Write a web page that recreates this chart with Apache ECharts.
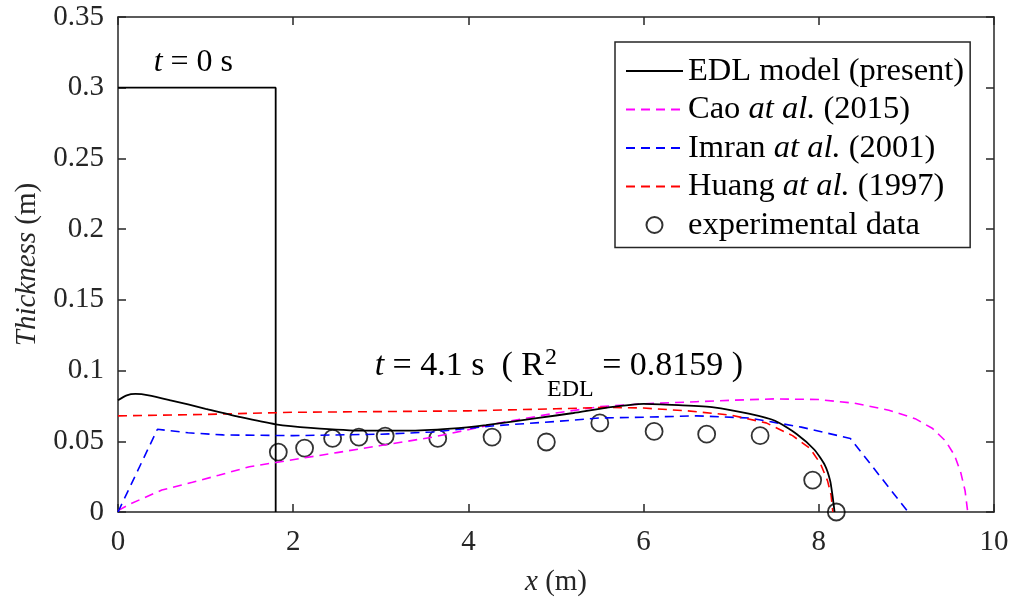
<!DOCTYPE html>
<html><head><meta charset="utf-8">
<script src="https://cdn.jsdelivr.net/npm/echarts@6/dist/echarts.min.js"></script>
<style>html,body{margin:0;padding:0;background:#fff}#c{width:1016px;height:605px}</style>
</head><body><div id="c"></div>
<script>
const FONT = '"Liberation Serif","Times New Roman",serif';
const TXT = '#262626';

// ---- data ----
const initialProfile = [[0,0.3],[1.8,0.3],[1.8,0]];
const edlModel = [[0,0.079],[0.1,0.0825],[0.2,0.0835],[0.35,0.0825],[0.6,0.079],[1.0,0.073],[1.4,0.067],[1.8,0.062],[2.2,0.0595],[2.8,0.0575],[3.3,0.0575],[3.8,0.059],[4.2,0.0615],[4.8,0.0665],[5.2,0.07],[5.6,0.074],[6.0,0.0765],[6.4,0.0755],[6.8,0.074],[7.2,0.0695],[7.5,0.0645],[7.75,0.055],[7.95,0.044],[8.07,0.033],[8.13,0.022],[8.16,0.01],[8.18,0]];
const cao2015 = [[0,0.001],[0.15,0.006],[0.5,0.0155],[0.85,0.021],[1.15,0.026],[1.5,0.032],[1.8,0.035],[2.1,0.038],[2.5,0.042],[3.0,0.047],[3.6,0.053],[4.4,0.0635],[5.0,0.07],[5.5,0.0745],[6.0,0.0765],[6.6,0.078],[7.0,0.079],[7.5,0.08],[8.0,0.0795],[8.4,0.077],[8.8,0.072],[9.1,0.066],[9.3,0.059],[9.45,0.05],[9.55,0.04],[9.62,0.028],[9.67,0.015],[9.7,0]];
const imran2001 = [[0,0],[0.45,0.0585],[0.8,0.056],[1.2,0.0545],[2.0,0.054],[3.0,0.055],[3.6,0.0566],[4.3,0.061],[5.0,0.064],[5.5,0.0665],[6.0,0.067],[6.6,0.068],[7.2,0.0665],[7.8,0.06],[8.36,0.052],[9.02,0]];
const huang1997 = [[0,0.068],[1.0,0.069],[2.0,0.0705],[3.0,0.071],[4.0,0.0715],[5.0,0.073],[5.6,0.074],[6.0,0.0735],[6.5,0.0715],[7.0,0.0685],[7.4,0.063],[7.7,0.054],[7.9,0.045],[8.02,0.034],[8.1,0.022],[8.14,0.012],[8.16,0]];
const expX = [1.83,2.13,2.45,2.75,3.05,3.65,4.27,4.89,5.50,6.12,6.72,7.33,7.93,8.20];
const expY = [0.0424,0.0452,0.052,0.053,0.0537,0.052,0.053,0.0495,0.063,0.057,0.055,0.054,0.0226,0];

const seriesNames = ['EDL model (present)','Cao at al. (2015)','Imran at al. (2001)','Huang at al. (1997)','experimental data'];
const legendRich = {
  'EDL model (present)': 'EDL model (present)',
  'Cao at al. (2015)': 'Cao {i|at al.} (2015)',
  'Imran at al. (2001)': 'Imran {i|at al.} (2001)',
  'Huang at al. (1997)': 'Huang {i|at al.} (1997)',
  'experimental data': 'experimental data'
};
const annot0Pos = [0.86, 0.318];
const annot1Pos = [2.93, 0.1035];

const chart = echarts.init(document.getElementById('c'), null, {renderer:'canvas'});
const axisLine = {show:true, onZero:false, lineStyle:{color:TXT, width:1.5}};
const tickIn = {show:true, inside:true, length:8, lineStyle:{color:TXT, width:1.5}};
const dash = [9,6];

chart.setOption({
  animation:false,
  backgroundColor:'#fff',
  grid:{left:118, right:22, top:17, bottom:93, containLabel:false},
  legend:{
    data: seriesNames.map((n,i) => i < 4 ? {name:n, itemStyle:{opacity:0}} : {name:n}),
    orient:'vertical', left:615, top:42,
    padding:[12.5,6,6,10], itemGap:5.5,
    itemWidth:57, itemHeight:16,
    backgroundColor:'#fff', borderColor:TXT, borderWidth:1.5,
    formatter: n => legendRich[n],
    textStyle:{fontFamily:FONT, fontSize:32.5, color:'#000',
      rich:{i:{fontFamily:FONT, fontSize:32.5, fontStyle:'italic', color:'#000'}}}
  },
  xAxis:[{
    type:'value', min:0, max:10, interval:2,
    axisLine, axisTick:tickIn, splitLine:{show:false},
    axisLabel:{fontFamily:FONT, fontSize:29, color:TXT, margin:16},
    name:'{i|x} (m)', nameLocation:'middle', nameGap:56,
    nameTextStyle:{fontFamily:FONT, fontSize:29, color:TXT,
      rich:{i:{fontFamily:FONT, fontSize:29, fontStyle:'italic', color:TXT}}}
  },{
    type:'value', min:0, max:10, interval:2, position:'top',
    axisLine, axisTick:tickIn, axisLabel:{show:false}, splitLine:{show:false}
  }],
  yAxis:[{
    type:'value', min:0, max:0.35, interval:0.05,
    axisLine, axisTick:tickIn, splitLine:{show:false},
    axisLabel:{fontFamily:FONT, fontSize:29, color:TXT, margin:14,
      formatter: v => String(+v.toFixed(2))},
    name:'{i|Thickness} (m)', nameLocation:'middle', nameGap:72, nameRotate:90,
    nameTextStyle:{fontFamily:FONT, fontSize:29, color:TXT,
      rich:{i:{fontFamily:FONT, fontSize:29, fontStyle:'italic', color:TXT}}}
  },{
    type:'value', min:0, max:0.35, interval:0.05, position:'right',
    axisLine, axisTick:tickIn, axisLabel:{show:false}, splitLine:{show:false}
  }],
  series:[
    {name:'t0', type:'line', data:initialProfile, symbol:'none', lineStyle:{color:'#000', width:1.8}, silent:true},
    {name:seriesNames[1], type:'line', data:cao2015, symbol:'none', color:'#ff00ff', lineStyle:{color:'#ff00ff', width:1.6, type:dash}},
    {name:seriesNames[2], type:'line', data:imran2001, symbol:'none', color:'#0000ff', lineStyle:{color:'#0000ff', width:1.6, type:dash}},
    {name:seriesNames[3], type:'line', data:huang1997, symbol:'none', color:'#ff0000', lineStyle:{color:'#ff0000', width:1.6, type:dash}},
    {name:seriesNames[0], type:'line', data:edlModel, symbol:'none', smooth:0.2, color:'#000', lineStyle:{color:'#000', width:1.8}},
    {name:seriesNames[4], type:'scatter', data:expX.map((x,i)=>[x,expY[i]]), symbol:'circle', symbolSize:17,
      itemStyle:{color:'rgba(255,255,255,0)', borderColor:'#000', borderWidth:1.8}, clip:false}
  ]
});

// annotations
const ctx = document.createElement('canvas').getContext('2d');
function w(text, size, italic){ ctx.font = (italic?'italic ':'') + size + 'px ' + FONT; return ctx.measureText(text).width; }
function txt(x, y, text, size, italic, align){
  return {type:'text', x, y, silent:true, z:100,
    style:{text, fontFamily:FONT, fontSize:size, fontStyle: italic?'italic':'normal', fill:'#000', align: align||'left', verticalAlign:'middle'}};
}
const g = [];
// t = 0 s
{
  const p = chart.convertToPixel({gridIndex:0}, annot0Pos);
  const total = w('t',32,true) + w(' = 0 s',32,false);
  let x = p[0] - total/2;
  g.push(txt(x, p[1], 't', 32, true));
  x += w('t',32,true);
  g.push(txt(x, p[1], ' = 0 s', 32, false));
}
// t = 4.1 s ( R^2_EDL = 0.8159 )
{
  const F = 34, S = 24;
  const p = chart.convertToPixel({gridIndex:0}, annot1Pos);
  let x = p[0];
  g.push(txt(x, p[1], 't', F, true));
  x += w('t',F,true);
  const s1 = ' = 4.1 s  ( R';
  g.push(txt(x, p[1], s1, F, false));
  x += w(s1,F,false) + 1;
  g.push(txt(x, p[1]-8, '2', S, false));
  g.push(txt(x+2, p[1]+24, 'EDL', S, false));
  x += Math.max(w('2',S,false), w('EDL',S,false)+2);
  g.push(txt(x, p[1], ' = 0.8159 )', F, false));
}
chart.setOption({graphic:g});
</script>
</body></html>
